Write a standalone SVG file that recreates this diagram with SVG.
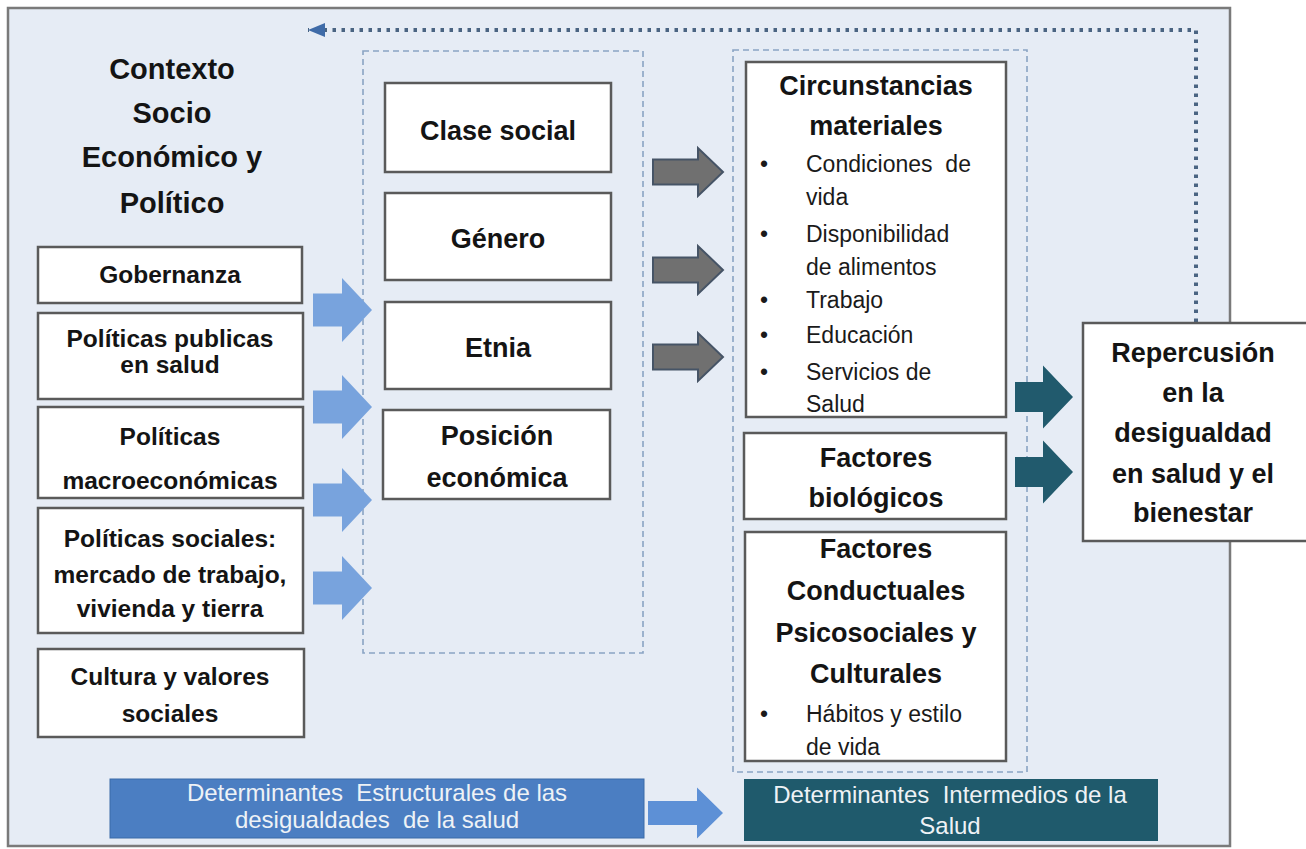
<svg xmlns="http://www.w3.org/2000/svg" width="1306" height="849" viewBox="0 0 1306 849">
<style>
.box{fill:#ffffff;stroke:#5a5a5a;stroke-width:2.5}
.dash{fill:none;stroke:#8aa4c4;stroke-width:1.6;stroke-dasharray:6 4}
.t{font-family:"Liberation Sans",Arial,sans-serif;font-weight:bold;fill:#141414;text-anchor:middle}
.tl{font-size:24.5px}
.tm{font-size:27px}
.tt{font-size:29px}
.b{font-family:"Liberation Sans",Arial,sans-serif;font-size:23px;fill:#1a1a1a;white-space:pre}
.bn{font-family:"Liberation Sans",Arial,sans-serif;font-size:24px;fill:#eef2f6;text-anchor:middle;white-space:pre}
.lb{fill:#78a3dd}
.gr{fill:#707070;stroke:#465466;stroke-width:2}
.tl2{fill:#215a6d}
</style>
<defs>
<marker id="ah" markerUnits="userSpaceOnUse" markerWidth="20" markerHeight="16" refX="17" refY="7" orient="auto">
<path d="M0,0 L17,7 L0,14 z" fill="#3f6ba8"/>
</marker>
<path id="arrLB" d="M-59,-16.5 H-30 V-32 L0,0 L-30,32 V16.5 H-59 z"/>
<path id="arrGR" d="M-70,-12.5 H-25 V-24 L0,0 L-25,24 V12.5 H-70 z"/>
<path id="arrTL" d="M-58,-15 H-30 V-31.5 L0,0 L-30,31.5 V15 H-58 z"/>
</defs>

<g id="background">
<rect x="8" y="8" width="1222" height="838" fill="#e6ecf5" stroke="#7a7a7a" stroke-width="2.5"/>
<rect class="dash" x="363" y="51" width="280" height="602"/>
<rect class="dash" x="733" y="50" width="294" height="722"/>
</g>

<g id="connectors">
<path d="M1196,322 V30 H308" fill="none" stroke="#4a6482" stroke-width="4" stroke-dasharray="3.5 5.5" marker-end="url(#ah)"/>
<use href="#arrLB" class="lb" x="372" y="310"/>
<use href="#arrLB" class="lb" x="372" y="407"/>
<use href="#arrLB" class="lb" x="372" y="500"/>
<use href="#arrLB" class="lb" x="372" y="588"/>
<use href="#arrGR" class="gr" x="723" y="172"/>
<use href="#arrGR" class="gr" x="723" y="270"/>
<use href="#arrGR" class="gr" x="723" y="357"/>
<use href="#arrTL" class="tl2" x="1073" y="397"/>
<use href="#arrTL" class="tl2" x="1073" y="472"/>
<path d="M648,801 H697 V787.5 L723,813 L697,838.5 V825 H648 z" fill="#5d90d6"/>
</g>

<g id="contexto">
<text class="t tt" x="172" y="79">Contexto</text>
<text class="t tt" x="172" y="123">Socio</text>
<text class="t tt" x="172" y="167">Económico y</text>
<text class="t tt" x="172" y="213">Político</text>
</g>

<g id="gobernanza">
<rect class="box" x="38" y="247" width="264" height="56"/>
<text class="t tl" x="170" y="283">Gobernanza</text>
</g>
<g id="politicas-publicas">
<rect class="box" x="38" y="313" width="265" height="86"/>
<text class="t tl" x="170" y="347">Políticas publicas</text>
<text class="t tl" x="170" y="373">en salud</text>
</g>
<g id="politicas-macro">
<rect class="box" x="38" y="407" width="265" height="91"/>
<text class="t tl" x="170" y="445">Políticas</text>
<text class="t tl" x="170" y="489">macroeconómicas</text>
</g>
<g id="politicas-sociales">
<rect class="box" x="38" y="508" width="265" height="125"/>
<text class="t tl" x="170" y="547">Políticas sociales:</text>
<text class="t tl" x="170" y="583">mercado de trabajo,</text>
<text class="t tl" x="170" y="617">vivienda y tierra</text>
</g>
<g id="cultura">
<rect class="box" x="38" y="649" width="266" height="88"/>
<text class="t tl" x="170" y="685">Cultura y valores</text>
<text class="t tl" x="170" y="722">sociales</text>
</g>

<g id="clase-social">
<rect class="box" x="385" y="83" width="226" height="89"/>
<text class="t tm" x="498" y="140">Clase social</text>
</g>
<g id="genero">
<rect class="box" x="385" y="193" width="226" height="87"/>
<text class="t tm" x="498" y="248">Género</text>
</g>
<g id="etnia">
<rect class="box" x="385" y="302" width="226" height="87"/>
<text class="t tm" x="498" y="357">Etnia</text>
</g>
<g id="posicion">
<rect class="box" x="383" y="410" width="227" height="89"/>
<text class="t tm" x="497" y="445">Posición</text>
<text class="t tm" x="497" y="487">económica</text>
</g>

<g id="circunstancias">
<rect class="box" x="746" y="62" width="260" height="355"/>
<text class="t tm" x="876" y="95">Circunstancias</text>
<text class="t tm" x="876" y="135">materiales</text>
<text class="b" x="760" y="172">•</text><text class="b" x="806" y="172">Condiciones  de</text>
<text class="b" x="806" y="205">vida</text>
<text class="b" x="760" y="242">•</text><text class="b" x="806" y="242">Disponibilidad</text>
<text class="b" x="806" y="275">de alimentos</text>
<text class="b" x="760" y="308">•</text><text class="b" x="806" y="308">Trabajo</text>
<text class="b" x="760" y="343">•</text><text class="b" x="806" y="343">Educación</text>
<text class="b" x="760" y="380">•</text><text class="b" x="806" y="380">Servicios de</text>
<text class="b" x="806" y="412">Salud</text>
</g>
<g id="factores-biologicos">
<rect class="box" x="744" y="433" width="262" height="86"/>
<text class="t tm" x="876" y="467">Factores</text>
<text class="t tm" x="876" y="507">biológicos</text>
</g>
<g id="factores-conductuales">
<rect class="box" x="745" y="532" width="261" height="229"/>
<text class="t tm" x="876" y="558">Factores</text>
<text class="t tm" x="876" y="600">Conductuales</text>
<text class="t tm" x="876" y="642">Psicosociales y</text>
<text class="t tm" x="876" y="683">Culturales</text>
<text class="b" x="760" y="722">•</text><text class="b" x="806" y="722">Hábitos y estilo</text>
<text class="b" x="806" y="755">de vida</text>
</g>

<g id="repercusion">
<rect class="box" x="1083" y="323" width="230" height="218"/>
<text class="t tm" x="1193" y="362">Repercusión</text>
<text class="t tm" x="1193" y="402">en la</text>
<text class="t tm" x="1193" y="442">desigualdad</text>
<text class="t tm" x="1193" y="483">en salud y el</text>
<text class="t tm" x="1193" y="522">bienestar</text>
</g>

<g id="determinantes-estructurales">
<rect x="110" y="779" width="534" height="59" fill="#4b7ec2" stroke="#3b6aa8" stroke-width="1"/>
<text class="bn" x="377" y="801">Determinantes  Estructurales de las</text>
<text class="bn" x="377" y="828">desigualdades  de la salud</text>
</g>
<g id="determinantes-intermedios">
<rect x="744" y="779" width="414" height="62" fill="#1f5a6c"/>
<text class="bn" x="950" y="803">Determinantes  Intermedios de la</text>
<text class="bn" x="950" y="834">Salud</text>
</g>
</svg>
